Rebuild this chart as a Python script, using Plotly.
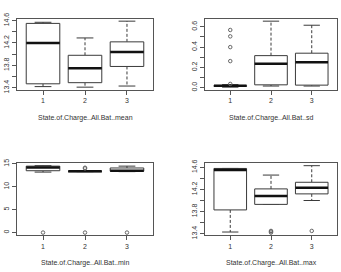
import plotly.graph_objects as go

groups = [1, 2, 3]

# Panel 1: State.of.Charge..All.Bat..mean
mean_lo = [13.42, 13.41, 13.43]
mean_q1 = [13.47, 13.49, 13.78]
mean_med = [14.20, 13.75, 14.04]
mean_q3 = [14.55, 13.98, 14.22]
mean_hi = [14.57, 14.29, 14.59]
mean_out = [[], [], []]

# Panel 2: State.of.Charge..All.Bat..sd
sd_lo = [0.005, 0.016, 0.016]
sd_q1 = [0.012, 0.028, 0.025]
sd_med = [0.018, 0.237, 0.25]
sd_q3 = [0.022, 0.316, 0.34]
sd_hi = [0.03, 0.656, 0.616]
sd_out = [[0.037, 0.262, 0.40, 0.506, 0.569], [], []]

# Panel 3: State.of.Charge..All.Bat..min
min_lo = [13.2, 13.3, 13.3]
min_q1 = [13.5, 13.3, 13.4]
min_med = [14.2, 13.4, 13.5]
min_q3 = [14.5, 13.45, 14.1]
min_hi = [14.6, 13.5, 14.5]
min_out = [[0.0], [14.0, 14.15, 0.0], [0.0]]

# Panel 4: State.of.Charge..All.Bat..max
max_lo = [13.43, 13.93, 14.0]
max_q1 = [13.83, 13.93, 14.12]
max_med = [14.55, 14.08, 14.23]
max_q3 = [14.58, 14.21, 14.33]
max_hi = [14.58, 14.46, 14.63]
max_out = [[], [13.42, 13.44, 13.45], [13.45]]

titles = ["State.of.Charge..All.Bat..mean", "State.of.Charge..All.Bat..sd",
          "State.of.Charge..All.Bat..min", "State.of.Charge..All.Bat..max"]

ytick_vals = [
    [13.4, 13.6, 13.8, 14.0, 14.2, 14.4, 14.6],
    [0.0, 0.1, 0.2, 0.3, 0.4, 0.5, 0.6],
    [0, 5, 10, 15],
    [13.4, 13.6, 13.8, 14.0, 14.2, 14.4, 14.6],
]
ytick_text = [
    ["13.4", "", "13.8", "", "14.2", "", "14.6"],
    ["0.0", "", "0.2", "", "0.4", "", "0.6"],
    ["0", "5", "10", "15"],
    ["13.4", "", "13.8", "", "14.2", "", "14.6"],
]

panels = [
    (mean_lo, mean_q1, mean_med, mean_q3, mean_hi, mean_out),
    (sd_lo, sd_q1, sd_med, sd_q3, sd_hi, sd_out),
    (min_lo, min_q1, min_med, min_q3, min_hi, min_out),
    (max_lo, max_q1, max_med, max_q3, max_hi, max_out),
]

W, H = 341, 272
# panel frames in pixels: (left, right, top, bottom)
frames = [(17, 153, 13, 87), (205, 337, 13, 87), (17, 153, 163, 238), (205, 337, 163, 238)]

BOXW = 0.4
CAPW = 0.2
box_col = "#3a3a3a"
frame_col = "#555555"
text_col = "#333333"
font = dict(family="Liberation Sans, Arial, sans-serif", size=7, color=text_col)

fig = go.Figure()
layout = dict(width=W, height=H, margin=dict(l=0, r=0, t=0, b=0),
              paper_bgcolor="white", plot_bgcolor="white", showlegend=False,
              font=font, annotations=[])

for p, (lo, q1, med, q3, hi, out) in enumerate(panels):
    ax = "" if p == 0 else str(p + 1)
    xr, yr = "x" + ax, "y" + ax
    allv = lo + hi + [v for o in out for v in o]
    vmin, vmax = min(allv), max(allv)
    pad = 0.04 * (vmax - vmin)
    for i, g in enumerate(groups):
        # dashed whiskers
        fig.add_trace(go.Scatter(x=[g, g, None, g, g], y=[q3[i], hi[i], None, q1[i], lo[i]],
                                 mode="lines", line=dict(color=box_col, width=1, dash="3px,2px"),
                                 xaxis=xr, yaxis=yr, hoverinfo="skip"))
        # caps
        fig.add_trace(go.Scatter(x=[g - CAPW, g + CAPW, None, g - CAPW, g + CAPW],
                                 y=[hi[i], hi[i], None, lo[i], lo[i]],
                                 mode="lines", line=dict(color=box_col, width=1),
                                 xaxis=xr, yaxis=yr, hoverinfo="skip"))
        # box
        fig.add_trace(go.Scatter(x=[g - BOXW, g + BOXW, g + BOXW, g - BOXW, g - BOXW],
                                 y=[q1[i], q1[i], q3[i], q3[i], q1[i]],
                                 mode="lines", fill="toself", fillcolor="white",
                                 line=dict(color=box_col, width=1),
                                 xaxis=xr, yaxis=yr, hoverinfo="skip"))
        # median
        fig.add_trace(go.Scatter(x=[g - BOXW, g + BOXW], y=[med[i], med[i]],
                                 mode="lines", line=dict(color="#111111", width=2.5),
                                 xaxis=xr, yaxis=yr, hoverinfo="skip"))
        # outliers
        if out[i]:
            fig.add_trace(go.Scatter(x=[g] * len(out[i]), y=out[i], mode="markers",
                                     marker=dict(symbol="circle-open", size=3.5,
                                                 color="#666666", line=dict(width=1)),
                                     xaxis=xr, yaxis=yr, hoverinfo="skip"))
    l, r, t, b = frames[p]
    xdom = [l / W, r / W]
    ydom = [1 - b / H, 1 - t / H]
    layout["xaxis" + ax] = dict(domain=xdom, range=[0.38, 3.62], anchor=yr,
                                tickvals=groups, ticktext=[str(g) for g in groups],
                                ticks="outside", ticklen=4, tickcolor=frame_col,
                                showline=True, linecolor=frame_col, linewidth=1, mirror=True,
                                showgrid=False, zeroline=False, tickfont=font)
    layout["yaxis" + ax] = dict(domain=ydom, range=[vmin - pad, vmax + pad], anchor=xr,
                                tickvals=ytick_vals[p], ticktext=ytick_text[p],
                                ticks="outside", ticklen=4, tickcolor=frame_col,
                                tickangle=-90,
                                showline=True, linecolor=frame_col, linewidth=1, mirror=True,
                                showgrid=False, zeroline=False, tickfont=font)
    layout["annotations"].append(dict(text=titles[p], xref="paper", yref="paper",
                                      x=(l + r) / 2 / W, y=1 - (b + 29) / H,
                                      xanchor="center", yanchor="middle",
                                      showarrow=False, font=font))

fig.update_layout(**layout)
fig.write_html("out.html")
